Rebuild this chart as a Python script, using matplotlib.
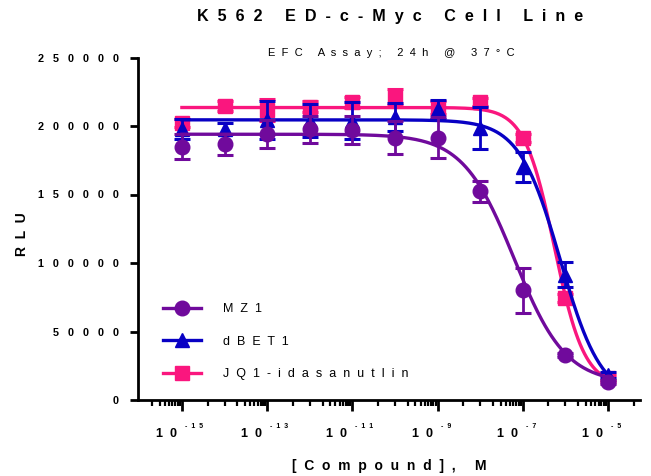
import numpy as np
import matplotlib

matplotlib.use("Agg")
import matplotlib.pyplot as plt
from matplotlib.lines import Line2D
from matplotlib.ticker import FixedLocator, NullFormatter

# --- values (RLU, mean and error) ---
conc = np.array([1e-15, 1e-14, 1e-13, 1e-12, 1e-11, 1e-10, 1e-9, 1e-8, 1e-7, 1e-6, 1e-5])
mz1 = np.array([185000, 186500, 194000, 197700, 197000, 191500, 191500, 152200, 80000, 32900, 13400])
mz1_sd = np.array([8800, 7900, 10100, 9800, 10400, 12000, 15000, 7600, 16500, 1500, 1500])
dbet1 = np.array([197800, 198000, 204500, 203900, 203900, 206600, 212200, 198600, 170000, 91600, 18300])
dbet1_sd = np.array([7000, 4000, 14000, 12200, 13400, 10000, 7000, 15500, 11000, 9100, 2000])
jq1 = np.array([202000, 214600, 211500, 214100, 217300, 221000, 213500, 217500, 191200, 74400, 15900])
jq1_sd = np.array([3000, 4000, 8000, 4000, 4000, 6000, 5000, 3000, 3000, 3000, 2000])

# 4PL fit parameters: top, bottom, logIC50, hill
mz1_fit = [194000, 12000, -7.2, 0.72]
dbet1_fit = [204500, 0, -6.12, 0.9]
jq1_fit = [213500, 10000, -6.26, 1.24]

labels = ["MZ1", "dBET1", "JQ1-idasanutlin"]
C_MZ1, C_DBET, C_JQ1 = "#700A9C", "#0800C4", "#FA167E"

plt.rcParams.update({"font.family": "Liberation Sans"})


def sp(s, n=2):
    # GraphPad-style letter spacing
    return (" " * n).join(s)


def fourpl(x, top, bottom, logic50, hill):
    return bottom + (top - bottom) / (1 + 10 ** ((np.log10(x) - logic50) * hill))


fig = plt.figure(figsize=(6.51, 4.76), dpi=100)
ax = fig.add_axes([138 / 651, 1 - 400 / 476, (640 - 138) / 651, (400 - 57.5) / 476])

xs = np.logspace(-15, -5, 400)
series = [
    (jq1, jq1_sd, jq1_fit, C_JQ1, "s", 9.5),
    (dbet1, dbet1_sd, dbet1_fit, C_DBET, "^", 9.5),
    (mz1, mz1_sd, mz1_fit, C_MZ1, "o", 10.5),
]
handles = []
for vals, sd, fit, c, mk, ms in series:
    ax.plot(xs, fourpl(xs, *fit), "-", color=c, lw=2.4)
    ax.errorbar(conc, vals, yerr=sd, fmt="none", ecolor=c, elinewidth=2, capsize=6, capthick=2.2)
    ax.plot(conc, vals, mk, color=c, ms=ms, mec=c)
    handles.append(Line2D([], [], color=c, lw=2.4, marker=mk, ms=ms))
handles = handles[::-1]

ax.set_xscale("log")
ax.set_xlim(10**-16.03, 10**-4.25)
ax.set_ylim(0, 250000)
for s in ("top", "right"):
    ax.spines[s].set_visible(False)
for s in ("left", "bottom"):
    ax.spines[s].set_linewidth(2)

# y axis
yt = np.arange(0, 250001, 50000)
ax.set_yticks(yt, [sp(str(v), 3) for v in yt], fontsize=7.8, fontweight="bold")
ax.tick_params(axis="y", length=6, width=2, pad=8)

# x axis: long ticks on labelled decades, GraphPad-like minor ticks
major_exp = np.arange(-15, -4, 2)
ax.xaxis.set_major_locator(FixedLocator(10.0 ** major_exp))
ax.xaxis.set_major_formatter(NullFormatter())
minors = [k * 1e-16 for k in range(2, 10)]
for e in major_exp:
    M = 10.0**e
    minors += [4 * M] + [k * 10 * M for k in range(1, 10)]
ax.xaxis.set_minor_locator(FixedLocator(minors))
ax.xaxis.set_minor_formatter(NullFormatter())
ax.tick_params(axis="x", which="major", length=8, width=2)
ax.tick_params(axis="x", which="minor", length=4.3, width=1.6)
for e in major_exp:
    ax.annotate(sp("10", 2), xy=(10.0**e, 0), xycoords=("data", "axes fraction"), xytext=(-5, -34),
                textcoords="offset pixels", ha="right", va="center", fontsize=9, fontweight="bold")
    ax.annotate(sp(str(e), 2), xy=(10.0**e, 0), xycoords=("data", "axes fraction"), xytext=(3, -27),
                textcoords="offset pixels", ha="left", va="center", fontsize=5, fontweight="bold")

ax.set_ylabel(sp("RLU", 2), fontsize=10, fontweight="bold")
ax.yaxis.set_label_coords(-0.217, (400 - 234) / 342.5)
ax.set_xlabel(sp("[Compound], M", 2), fontsize=10, fontweight="bold")
ax.xaxis.set_label_coords(0.5, -0.172)

fig.text(390 / 651, 1 - 17 / 476, sp("K562 ED-c-Myc Cell Line", 2), ha="center", va="center",
         fontsize=11.6, fontweight="bold")
fig.text(391 / 651, 1 - 53 / 476, sp("EFC Assay; 24h @ 37°C", 2), ha="center", va="center", fontsize=8)

fig.legend(handles, [sp(l, 2) for l in labels], loc="upper left", bbox_to_anchor=(163 / 651, 1 - 303 / 476),
           frameon=False, handlelength=3.0, handletextpad=1.8, labelspacing=1.65, borderpad=0,
           borderaxespad=0, fontsize=9)

fig.savefig("out.png", dpi=100)
